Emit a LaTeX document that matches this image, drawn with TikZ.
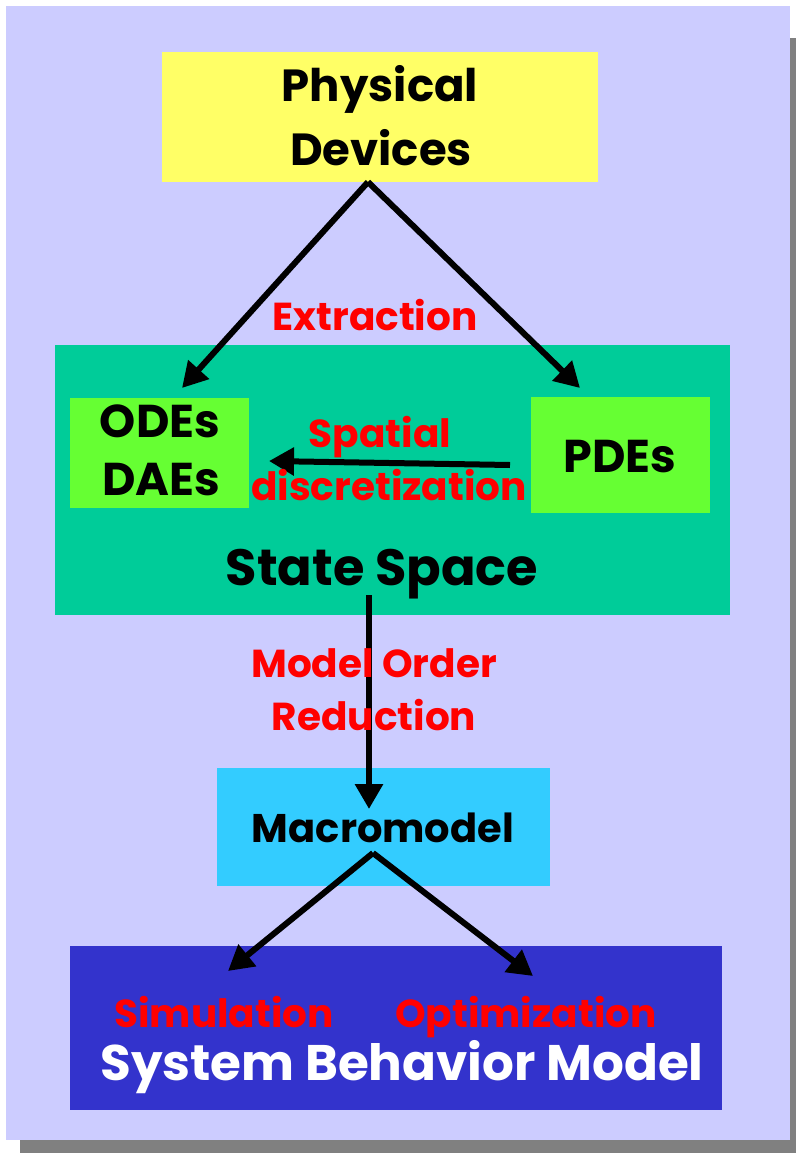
\documentclass[tikz,border=0pt]{standalone}
\usepackage{fontspec}
\setmainfont{Poppins}
\usetikzlibrary{arrows.meta}
\definecolor{panel}{HTML}{CCCCFF}
\definecolor{shadowgray}{HTML}{808080}
\definecolor{yel}{HTML}{FFFF66}
\definecolor{teal}{HTML}{00CC99}
\definecolor{lgreen}{HTML}{66FF33}
\definecolor{cyanbox}{HTML}{33CCFF}
\definecolor{bluebox}{HTML}{3333CC}
\definecolor{lab}{HTML}{FF0000}
\tikzset{
  txt/.style={inner sep=0pt, anchor=base, text=black},
  big/.style={txt, font=\fontsize{45}{54}\selectfont\bfseries},
  odes/.style={txt, font=\fontsize{46}{54}\selectfont\bfseries},
  ssf/.style={txt, font=\fontsize{51}{60}\selectfont\bfseries},
  sbmf/.style={txt, font=\fontsize{50}{60}\selectfont\bfseries, text=white},
  mac/.style={txt, font=\fontsize{40}{50}\selectfont\bfseries},
  lbl/.style={txt, font=\fontsize{39}{48}\selectfont\bfseries, text=lab},
  conn/.style={line width=6pt, -{Triangle[length=25pt,width=27pt]}, black}
}
\begin{document}
\begin{tikzpicture}[x=1pt,y=-1pt]
\useasboundingbox (0,0) rectangle (796,1153);
\fill[white] (0,0) rectangle (796,1153);
\fill[shadowgray] (789,38) rectangle (796,1153);
\fill[shadowgray] (20,1139) rectangle (796,1153);
\fill[panel] (6,6) rectangle (790,1140);
% Physical devices
\fill[yel] (162,52) rectangle (598,182);
\node[big] (phys1) at (380,102) {Physical};
\node[big] (phys2) at (381,165) {Devices};
\coordinate (physb) at (368,182);
% state space
\fill[teal] (55,345) rectangle (730,615);
\fill[lgreen] (70,398) rectangle (249,508);
\fill[lgreen] (531,397) rectangle (710,513);
\node[odes] (odes) at (160,437) {ODEs};
\node[odes] (daes) at (161,495) {DAEs};
\node[odes] (pdes) at (620,472) {PDEs};
\node[ssf] (ss) at (382,585) {State Space};
\coordinate (odetip) at (182,388);
\coordinate (pdetip) at (580,388);
\coordinate (spA) at (510,465);
\coordinate (spB) at (269,461);
\draw[conn] (physb) -- (odetip);
\draw[conn] (physb) -- (pdetip);
\node[lbl] (ext) at (375,330) {Extraction};
\draw[conn] (spA) -- (spB);
\node[lbl] (spat) at (380,447) {Spatial};
\node[lbl] (disc) at (389,500) {discretization};
% macromodel
\fill[cyanbox] (217,768) rectangle (550,886);
\node[mac] (macro) at (383,842) {Macromodel};
\coordinate (ssb) at (369,595);
\coordinate (mtop) at (369,809);
\draw[conn] (ssb) -- (mtop);
\node[lbl] (mor1) at (374,677) {Model Order};
\node[lbl] (mor2) at (374,730) {Reduction};
% system behavior model
\fill[bluebox] (70,946) rectangle (722,1110);
\coordinate (mb) at (373,853);
\coordinate (simtip) at (228,971);
\coordinate (opttip) at (533,976);
\draw[conn] (mb) -- (simtip);
\draw[conn] (mb) -- (opttip);
\node[lbl] (sim) at (224,1027) {Simulation};
\node[lbl] (opt) at (526,1027) {Optimization};
\node[sbmf] (sbm) at (402,1080) {System Behavior Model};
\end{tikzpicture}
\end{document}
